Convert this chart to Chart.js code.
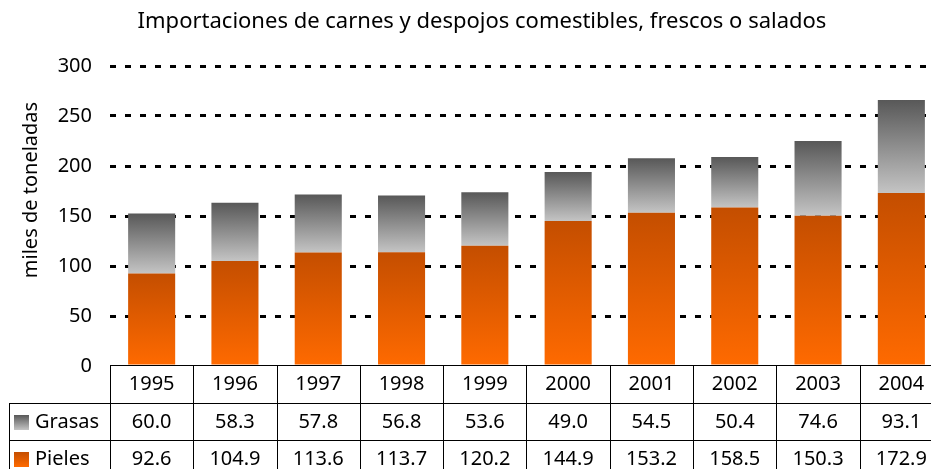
<!DOCTYPE html>
<html>
<head>
<meta charset="utf-8">
<script src="https://cdn.jsdelivr.net/npm/chart.js@4.4.0/dist/chart.umd.min.js"></script>
<style>
    html, body { margin: 0; padding: 0; background: #fff; overflow: hidden; }
    #wrap { width: 945px; height: 469px; position: relative; }
</style>
</head>
<body>
<div id="wrap"><canvas id="chart"></canvas></div>
<script>
// Chart data
const years = ['1995', '1996', '1997', '1998', '1999', '2000', '2001', '2002', '2003', '2004'];
const grasas = [60.0, 58.3, 57.8, 56.8, 53.6, 49.0, 54.5, 50.4, 74.6, 93.1];
const pieles = [92.6, 104.9, 113.6, 113.7, 120.2, 144.9, 153.2, 158.5, 150.3, 172.9];
const yTicks = [0, 50, 100, 150, 200, 250, 300];
const chartTitle = 'Importaciones de carnes y despojos comestibles, frescos o salados';
const yTitle = 'miles de toneladas';

const FONT = '"Noto Sans", Tahoma, sans-serif';

// Gradient colours (top -> bottom)
const pielesGrad = ['#c44e00', '#ff6a00'];
const grasasGrad = ['#585858', '#c4c4c4'];

function gradFill(ctx, top, bottom, stops) {
    const g = ctx.createLinearGradient(0, top, 0, bottom);
    g.addColorStop(0, stops[0]);
    g.addColorStop(1, stops[1]);
    return g;
}

function barColor(stops, lowFn, highFn) {
    return function(c) {
        const chart = c.chart;
        const y = chart.scales.y;
        if (c.type !== 'data' || !chart.chartArea || !y) return stops[1];
        const i = c.dataIndex;
        return gradFill(chart.ctx, y.getPixelForValue(highFn(i)), y.getPixelForValue(lowFn(i)), stops);
    };
}

// Draws title, y axis title and the data table below the plot
const tablePlugin = {
    id: 'dataTable',
    afterDraw(chart) {
        const ctx = chart.ctx;
        const area = chart.chartArea;
        const x = chart.scales.x;
        const step = x.getPixelForValue(1) - x.getPixelForValue(0);
        const top = Math.round(area.bottom) - 1;
        const row1 = top + 38;
        const row2 = row1 + 37;
        const bottom = chart.height;

        ctx.save();
        // title
        ctx.fillStyle = '#000';
        ctx.font = '22px ' + FONT;
        ctx.textAlign = 'center';
        ctx.textBaseline = 'middle';
        ctx.fillText(chartTitle, 482, 22);

        // y axis title
        ctx.font = '20px ' + FONT;
        ctx.save();
        ctx.translate(31, 190);
        ctx.rotate(-Math.PI / 2);
        ctx.fillText(yTitle, 0, 0);
        ctx.restore();

        // table lines
        ctx.strokeStyle = '#000';
        ctx.lineWidth = 1;
        ctx.beginPath();
        ctx.moveTo(area.left, top + 0.5); ctx.lineTo(area.right, top + 0.5);
        ctx.moveTo(9, row1 + 0.5); ctx.lineTo(area.right, row1 + 0.5);
        ctx.moveTo(9, row2 + 0.5); ctx.lineTo(area.right, row2 + 0.5);
        ctx.moveTo(9.5, row1); ctx.lineTo(9.5, bottom);
        for (let i = 0; i <= years.length; i++) {
            const xx = Math.round(area.left + i * step) + 0.5;
            ctx.moveTo(xx, top); ctx.lineTo(xx, bottom);
        }
        ctx.stroke();

        // cells
        ctx.fillStyle = '#000';
        years.forEach((yr, i) => {
            const cx = x.getPixelForValue(i);
            ctx.fillText(yr, cx, top + 19);
            ctx.fillText(grasas[i].toFixed(1), cx, row1 + 19);
            ctx.fillText(pieles[i].toFixed(1), cx, row2 + 19);
        });

        // row labels with legend keys
        ctx.textAlign = 'left';
        ctx.fillText('Grasas', 35, row1 + 19);
        ctx.fillText('Pieles', 35, row2 + 19);
        ctx.fillStyle = gradFill(ctx, row1 + 12, row1 + 27, grasasGrad);
        ctx.fillRect(14, row1 + 12, 15, 15);
        ctx.fillStyle = gradFill(ctx, row2 + 12, row2 + 27, pielesGrad);
        ctx.fillRect(14, row2 + 12, 15, 15);
        ctx.restore();
    }
};

const chart = new Chart(document.getElementById('chart'), {
    type: 'bar',
    data: {
        labels: years,
        datasets: [
            {
                label: 'Pieles',
                data: pieles,
                backgroundColor: barColor(pielesGrad, () => 0, i => pieles[i])
            },
            {
                label: 'Grasas',
                data: grasas,
                backgroundColor: barColor(grasasGrad, i => pieles[i], i => pieles[i] + grasas[i])
            }
        ]
    },
    options: {
        responsive: true,
        maintainAspectRatio: false,
        animation: false,
        layout: { padding: { top: 66, right: 2, left: 0, bottom: 0 } },
        datasets: {
            bar: { categoryPercentage: 1, barPercentage: 0.565, borderWidth: 0 }
        },
        plugins: {
            legend: { display: false },
            title: { display: false },
            tooltip: { enabled: false }
        },
        scales: {
            x: {
                stacked: true,
                grid: { display: false },
                border: { display: false },
                ticks: { display: false },
                afterFit: s => { s.height = 103; }
            },
            y: {
                stacked: true,
                min: yTicks[0],
                max: yTicks[yTicks.length - 1],
                afterBuildTicks: s => { s.ticks = yTicks.map(v => ({ value: v })); },
                afterFit: s => { s.width = 110; },
                ticks: {
                    color: '#000',
                    padding: 18,
                    font: { family: FONT, size: 20 }
                },
                grid: {
                    drawTicks: false,
                    lineWidth: 3,
                    color: c => c.tick && c.tick.value === 0 ? 'rgba(0,0,0,0)' : '#000'
                },
                border: { display: false, dash: [6, 9], dashOffset: 0 }
            }
        }
    },
    plugins: [tablePlugin]
});
</script>
</body>
</html>
